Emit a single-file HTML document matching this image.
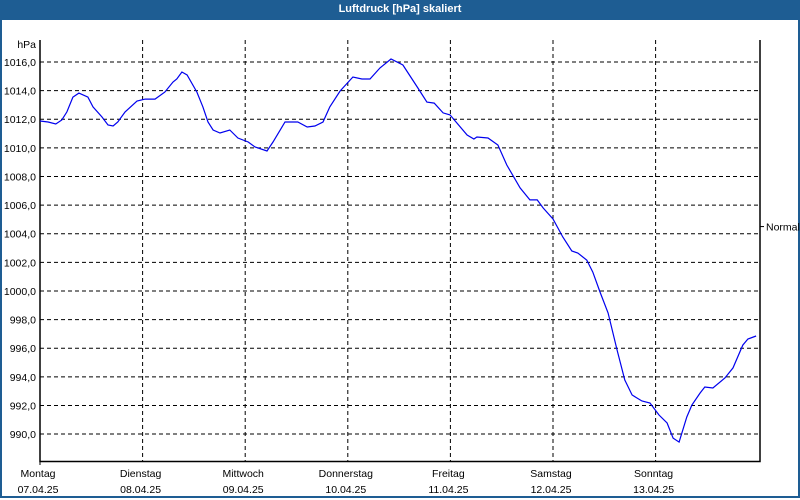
<!DOCTYPE html>
<html><head><meta charset="utf-8"><style>
body{margin:0;width:800px;height:500px;overflow:hidden;background:#fff;font-family:"Liberation Sans",sans-serif}
#frame{position:absolute;left:0;top:0;width:796px;height:496px;border:2px solid #1e5d93;border-top:none}
#title{position:absolute;left:0;top:0;width:800px;height:20px;background:#1e5d93;color:#fff;font-weight:bold;font-size:11px;text-align:center;line-height:19px}
svg{position:absolute;left:0;top:0}
svg text{font-family:"Liberation Sans",sans-serif;font-size:10.5px;fill:#000}
</style></head><body>
<div id="frame"></div>
<div id="title">Luftdruck [hPa] skaliert</div>
<svg id="chart" width="800" height="500"></svg>
<script>
const hours=[0,1.9,3.7,5.1,6.3,7.7,9.1,11.2,12.4,14.5,15.9,17.1,18.2,19.9,22.7,24.6,26.9,29.2,31.1,32.0,33.2,34.4,36.7,38.1,39.3,40.5,42.1,44.4,46.3,48.7,50.3,53.1,54.5,57.3,59.2,60.3,62.5,64.3,66.2,67.8,70.2,73.2,75.3,77.2,79.5,82.1,84.9,88.4,90.5,92.2,94.3,95.9,99.9,101.5,102.2,104.8,107.1,109.2,112.3,114.6,116.3,117.7,120.0,122.3,124.4,125.8,127.9,129.3,131.0,132.9,135.0,136.8,138.5,140.8,142.7,144.8,146.7,148.1,149.5,151.3,152.5,154.4,155.5,157.4,160.2,162.1,164.4,165.6,167.5];
const pressure=[1011.88,1011.81,1011.67,1011.95,1012.51,1013.55,1013.83,1013.55,1012.86,1012.16,1011.6,1011.53,1011.81,1012.51,1013.27,1013.41,1013.41,1013.90,1014.60,1014.81,1015.30,1015.09,1013.90,1012.86,1011.81,1011.25,1011.04,1011.25,1010.69,1010.41,1010.06,1009.78,1010.41,1011.81,1011.81,1011.81,1011.46,1011.53,1011.81,1012.86,1013.97,1014.95,1014.81,1014.81,1015.58,1016.21,1015.79,1014.18,1013.20,1013.13,1012.44,1012.30,1010.90,1010.62,1010.76,1010.69,1010.20,1008.80,1007.20,1006.36,1006.36,1005.80,1005.03,1003.77,1002.79,1002.65,1002.16,1001.32,999.93,998.46,995.87,993.78,992.73,992.31,992.17,991.33,990.77,989.72,989.44,991.19,992.03,992.87,993.29,993.22,993.92,994.62,996.22,996.64,996.85];
const yTicks=[990,992,994,996,998,1000,1002,1004,1006,1008,1010,1012,1014,1016];
const dayNames=["Montag","Dienstag","Mittwoch","Donnerstag","Freitag","Samstag","Sonntag"];
const dayDates=["07.04.25","08.04.25","09.04.25","10.04.25","11.04.25","12.04.25","13.04.25"];
const normalValue=1004.5;

const L=40,R=760,T=40,B=461;
const X=h=>L+h*(102.6/24);
const Y=v=>62+(1016-v)*14.31;
const svg=document.getElementById('chart');
const NS='http://www.w3.org/2000/svg';
function mk(tag,attrs){const e=document.createElementNS(NS,tag);for(const k in attrs)e.setAttribute(k,attrs[k]);svg.appendChild(e);return e;}

yTicks.forEach(v=>{
  const g=mk('line',{x1:L,x2:R,y1:Y(v),y2:Y(v),stroke:'#000','stroke-dasharray':'4,3'});
  
  
  const t=mk('text',{x:36,y:Y(v)+4,'text-anchor':'end'});
  t.textContent=v.toFixed(1).replace('.',',');
  
  
});
dayNames.forEach((d,i)=>{
  const x=X(i*24);
  if(i>0){
    const g=mk('line',{x1:x,x2:x,y1:T,y2:B,stroke:'#000','stroke-dasharray':'4,3'});
    
    
  }
  const t=mk('text',{x:x-2,y:477,'text-anchor':'middle'});
  t.textContent=d;
  
  
  const t2=mk('text',{x:x-2,y:493,'text-anchor':'middle'});
  t2.textContent=dayDates[i];
  
  
});
const ax=mk('path',{d:`M${L},${T}V${B+0.5}H${R}V${T}`,fill:'none',stroke:'#000','stroke-width':1.5});


const tk=mk('line',{x1:L,x2:L,y1:B,y2:B+4,stroke:'#000'});


const u=mk('text',{x:36,y:48,'text-anchor':'end'});
u.textContent='hPa';


const nt=mk('line',{x1:R,x2:R+4,y1:Y(normalValue),y2:Y(normalValue),stroke:'#000'});


const nl=mk('text',{x:766,y:Y(normalValue)+4});
nl.textContent='Normal';


const pts=hours.map((h,i)=>X(h).toFixed(1)+','+Y(pressure[i]).toFixed(1)).join(' ');
const line=mk('polyline',{points:pts,fill:'none',stroke:'#0000ee','stroke-width':1.2});


</script>
</body></html>
